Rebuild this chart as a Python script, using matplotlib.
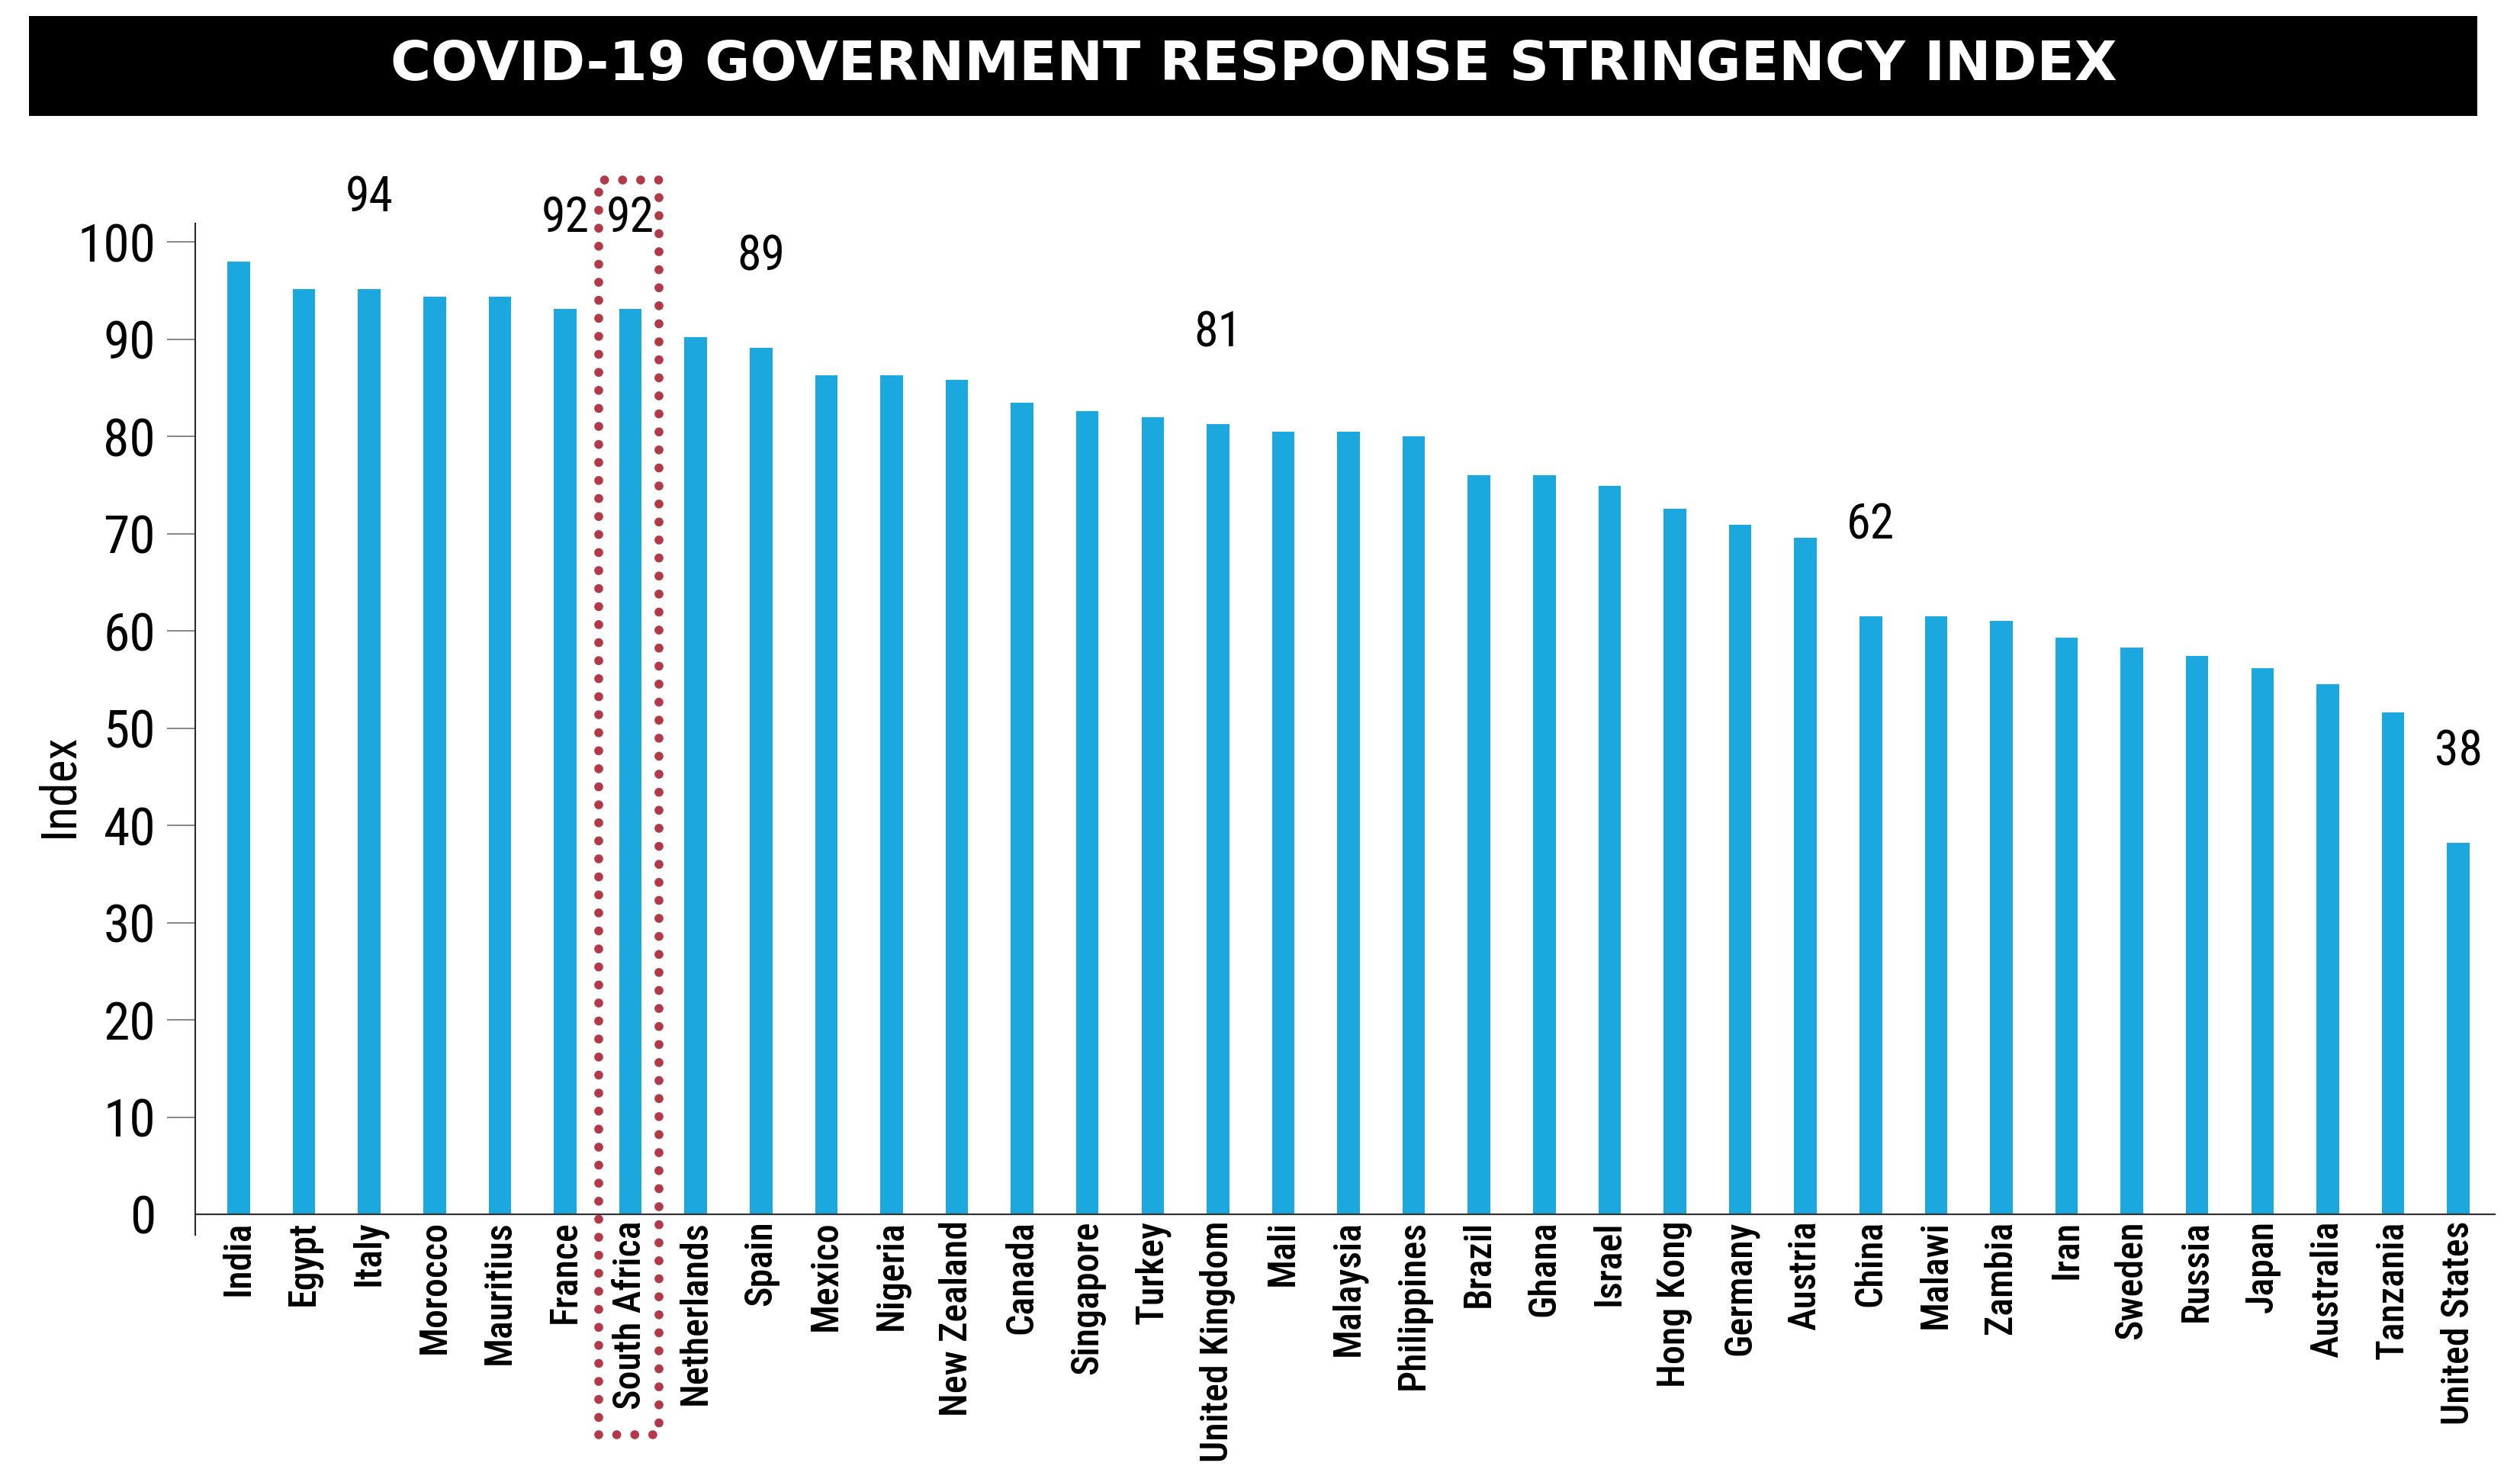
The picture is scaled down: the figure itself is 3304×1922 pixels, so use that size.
import numpy as np
import matplotlib
matplotlib.use("Agg")
import matplotlib.pyplot as plt
from matplotlib import font_manager
from matplotlib.patches import Rectangle

# ---------------- data ----------------
title = "COVID-19 GOVERNMENT RESPONSE STRINGENCY INDEX"
countries = ["India", "Egypt", "Italy", "Morocco", "Mauritius", "France", "South Africa",
             "Netherlands", "Spain", "Mexico", "Nigeria", "New Zealand", "Canada", "Singapore",
             "Turkey", "United Kingdom", "Mali", "Malaysia", "Philippines", "Brazil", "Ghana",
             "Israel", "Hong Kong", "Germany", "Austria", "China", "Malawi", "Zambia", "Iran",
             "Sweden", "Russia", "Japan", "Australia", "Tanzania", "United States"]
values = [98.0, 95.2, 95.2, 94.4, 94.4, 93.1, 93.1, 90.2, 89.1, 86.3, 86.3, 85.8, 83.5, 82.6,
          82.0, 81.3, 80.5, 80.5, 80.0, 76.0, 76.0, 74.9, 72.6, 70.9, 69.6, 61.5, 61.5, 61.0,
          59.3, 58.3, 57.4, 56.2, 54.5, 51.6, 38.2]
label_countries = ["Italy", "France", "South Africa", "Spain", "United Kingdom", "China", "United States"]
label_texts = ["94", "92", "92", "89", "81", "62", "38"]
highlight = "South Africa"
yticks = list(range(0, 101, 10))
ylabel = "Index"

# ---------------- fonts ----------------
def pick(cands):
    for c in cands:
        try:
            font_manager.findfont(font_manager.FontProperties(family=c), fallback_to_default=False)
            return c
        except Exception:
            pass
    return None

narrow = pick(["Roboto Condensed", "Liberation Sans Narrow", "Open Sans Condensed"])
scale = 1.0
if narrow is None:
    narrow = "Liberation Sans"
    scale = 0.8
fam = [narrow, "DejaVu Sans"]

BAR = "#1ba8de"
RED = "#b23a48"

fig = plt.figure(figsize=(33.04, 19.22), dpi=100)
fig.patch.set_facecolor("white")

ax = fig.add_axes([0.0775, 0.1717, 0.9125, 0.6632])
x = np.arange(len(countries))
ax.bar(x, values, width=0.345, color=BAR, zorder=2)
ax.set_xlim(-0.666, 34.56)
ax.set_ylim(0, 100)

for s in ["top", "right", "left"]:
    ax.spines[s].set_visible(False)
ax.spines["bottom"].set_color("#333333")
ax.spines["bottom"].set_linewidth(1.6)
ax.spines["bottom"].set_zorder(3)
ax.plot([0, 0], [-2.1, 101.9], transform=ax.get_yaxis_transform(), color="#222222",
        lw=1.4, clip_on=False, zorder=3)

ax.set_yticks(yticks)
ax.set_yticklabels([str(t) for t in yticks], family=fam, fontsize=50 * scale)
ax.tick_params(axis="y", length=26.6, width=1.1, color="#666666", pad=10.8)
ax.yaxis.get_major_ticks()[0].tick1line.set_visible(False)

ax.set_xticks(x)
ax.set_xticklabels(countries, rotation=90, family=fam, fontsize=36 * scale,
                   fontweight="medium", va="top", ha="center")
ax.tick_params(axis="x", length=0, pad=6)

ax.set_ylabel(ylabel, family=fam, fontsize=46 * scale)
ax.yaxis.set_label_coords(-0.049, 0.441)

# value labels
for c, t in zip(label_countries, label_texts):
    i = countries.index(c)
    ax.annotate(t, xy=(i, values[i]), xytext=(0, 86), textcoords="offset points",
                ha="center", va="center", family=fam, fontsize=46 * scale,
                annotation_clip=False)

# highlight box
hi = countries.index(highlight)
rect = Rectangle((hi - 0.49, -22.7), 0.93, 129.1, fill=False, edgecolor=RED, lw=8.5,
                 linestyle=(0, (0.001, 2.0)), capstyle="round", clip_on=False, zorder=5)
ax.add_patch(rect)

# title banner
banner = Rectangle((0.0115, 0.9209), 0.9716, 0.0682, transform=fig.transFigure,
                   facecolor="black", edgecolor="none")
fig.patches.append(banner)
fig.text(0.4974, 0.9553, title, color="white", fontsize=52, fontweight="bold",
         ha="center", va="center", family=["DejaVu Sans"])

fig.savefig("out.png", dpi=100)
